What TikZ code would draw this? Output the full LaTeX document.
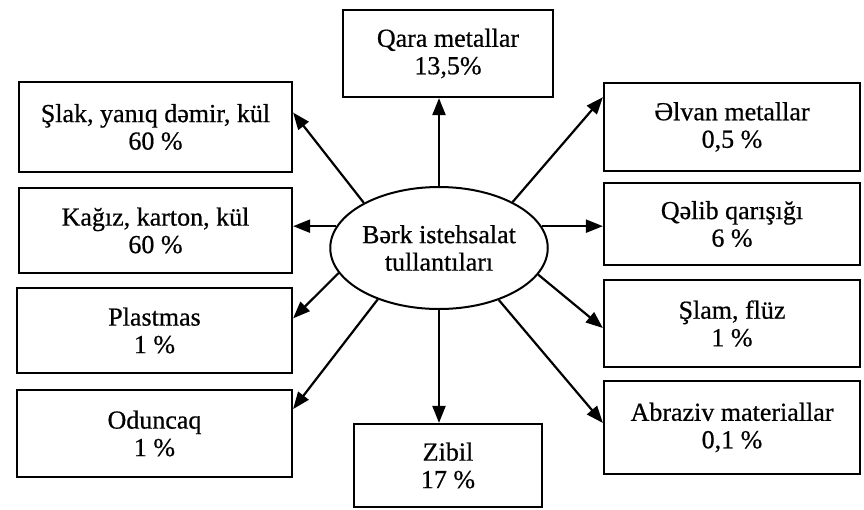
\documentclass[tikz,border=0pt]{standalone}
\usepackage{fontspec}
\setmainfont{Liberation Serif}[FakeBold=0.6]
\usetikzlibrary{arrows.meta,shapes.geometric}
\begin{document}
\begin{tikzpicture}[x=1pt,y=-1pt,
  txt/.style={align=center,font=\fontsize{26}{27.5}\selectfont},
  box/.style={txt,draw,line width=2.2pt,inner sep=0pt},
  hub/.style={txt,draw,ellipse,line width=2pt,inner sep=0pt,
              minimum width=205pt,minimum height=122pt},
  arr/.style={line width=2.2pt,-{Triangle[length=17pt,width=13pt]}}]
\useasboundingbox (0,0) rectangle (864,509);

% central ellipse
\node[hub] (el) at (439,248) {Bərk istehsalat\\tullantıları};

% top and bottom boxes
\node[box,minimum width=210pt,minimum height=87pt] (qara)  at (448,53.5) {Qara metallar\\13,5\%};
\node[box,minimum width=188pt,minimum height=83pt] (zibil) at (448,465.5) {Zibil\\17 \%};

% left column
\node[box,minimum width=273pt,minimum height=90pt] (slak)  at (155.5,127)   {Şlak, yanıq dəmir, kül\\60 \%};
\node[box,minimum width=273pt,minimum height=85pt] (kagiz) at (155.5,230.5) {Kağız, karton, kül\\60 \%};
\node[box,minimum width=275pt,minimum height=85pt] (plast) at (154.5,330.5) {Plastmas\\1 \%};
\node[box,minimum width=275pt,minimum height=87pt] (odun)  at (154.5,433.5) {Oduncaq\\1 \%};

% right column
\node[box,minimum width=256pt,minimum height=88pt] (elvan) at (732,127)   {Əlvan metallar\\0,5 \%};
\node[box,minimum width=256pt,minimum height=82pt] (qelib) at (732,224)   {Qəlib qarışığı\\6 \%};
\node[box,minimum width=256pt,minimum height=87pt] (slam)  at (732,323.5) {Şlam, flüz\\1 \%};
\node[box,minimum width=256pt,minimum height=93pt] (abr)   at (732,427.5) {Abraziv materiallar\\0,1 \%};

% connectors from the ellipse
\draw[arr] (el.north) -- (el.north |- qara.south);
\draw[arr] (el.south) -- (el.south |- zibil.north);
\draw[arr] (el.149) -- (slak.6);
\draw[arr] (el.168) -- (el.168 -| kagiz.east);
\draw[arr] (el.194) -- (plast.5);
\draw[arr] (el.220) -- (odun.10);
\draw[arr] (el.32)  -- (elvan.167);
\draw[arr] (el.12)  -- (el.12 -| qelib.west);
\draw[arr] (el.345) -- (slam.182);
\draw[arr] (el.319) -- (abr.178);
\end{tikzpicture}
\end{document}
